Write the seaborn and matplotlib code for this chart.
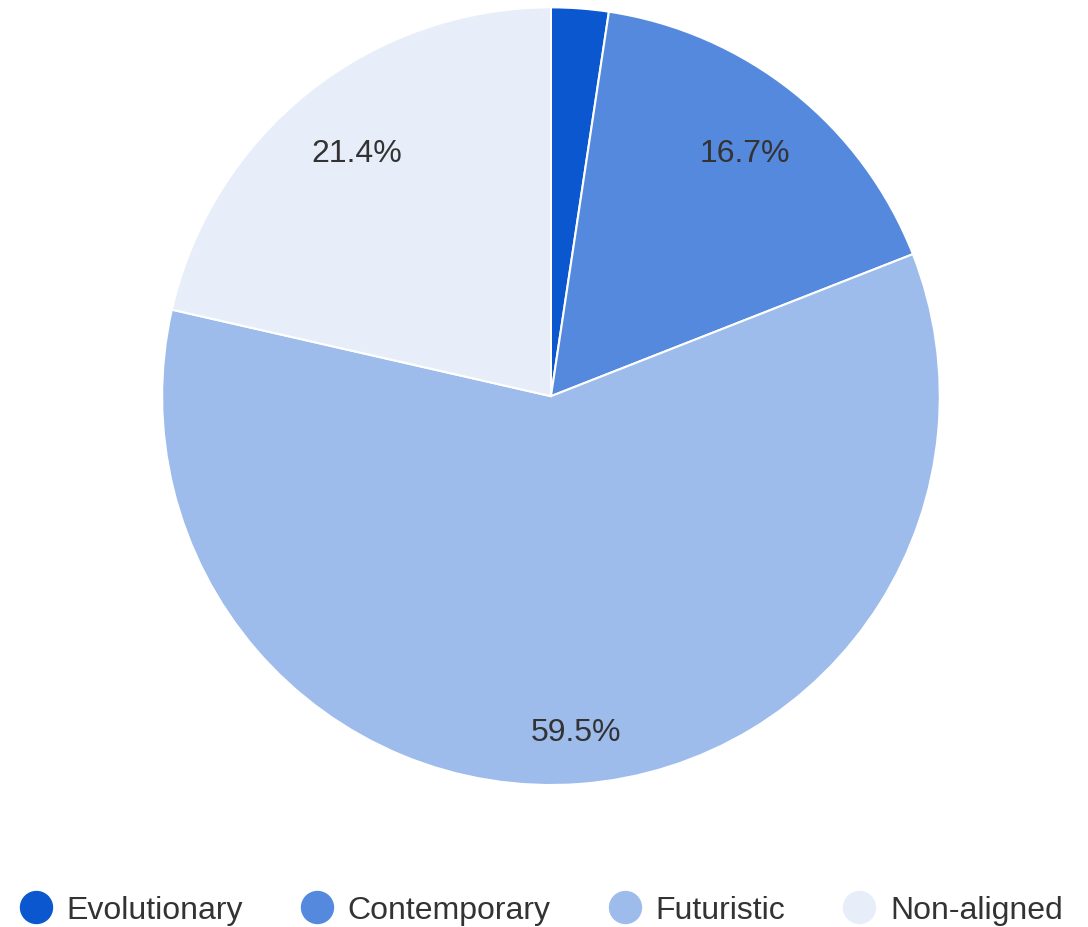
import matplotlib
matplotlib.use("Agg")
import matplotlib.pyplot as plt
from matplotlib.lines import Line2D
import seaborn as sns
import numpy as np

categories = ["Evolutionary", "Contemporary", "Futuristic", "Non-aligned"]
counts = [1, 7, 25, 9]
colors = ["#0b57d0", "#5589dd", "#9dbcec", "#e7edf9"]

sns.set_theme(style="white")
plt.rcParams["font.family"] = ["Liberation Sans", "DejaVu Sans"]

fig = plt.figure(figsize=(10.88, 9.28), dpi=100)
ax = fig.add_axes([0.1489, 0.153, 0.715, 0.838])

palette = sns.color_palette(colors)


def fmt(pct):
    return f"{pct:.1f}%" if pct >= 5 else ""


wedges, texts, autotexts = ax.pie(
    counts,
    colors=palette,
    startangle=90,
    counterclock=False,
    autopct=fmt,
    pctdistance=0.80,
    wedgeprops=dict(edgecolor="white", linewidth=1.5),
    textprops=dict(fontsize=23, color="#333333"),
)
ax.set_xlim(-1, 1)
ax.set_ylim(-1, 1)
ax.set_aspect("equal")

# the big slice's label sits a bit further out in the original
big = int(np.argmax(counts))
w = wedges[big]
mid = np.deg2rad((w.theta1 + w.theta2) / 2)
autotexts[big].set_position((0.865 * np.cos(mid), 0.865 * np.sin(mid)))

handles = [
    Line2D([0], [0], marker="o", linestyle="", markersize=23,
           markerfacecolor=c, markeredgecolor=c)
    for c in palette
]
fig.legend(
    handles, categories,
    loc="center", bbox_to_anchor=(0.496, 0.018),
    ncol=4, frameon=False, fontsize=23,
    handlelength=1.2, handletextpad=0.36, columnspacing=1.72,
    labelcolor="#333333",
)

fig.savefig("out.png", dpi=100, facecolor="white")
